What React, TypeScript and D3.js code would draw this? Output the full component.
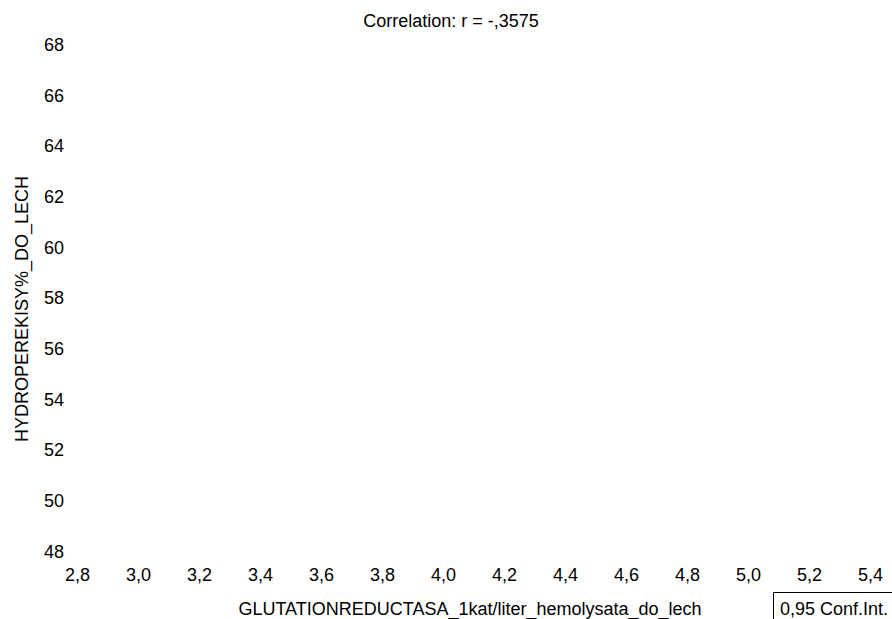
import React from "react";
import * as d3 from "d3";

const title = "Correlation: r = -,3575";
const xTitle = "GLUTATIONREDUCTASA_1kat/liter_hemolysata_do_lech";
const yTitle = "HYDROPEREKISY%_DO_LECH";
const legendLabel = "0,95 Conf.Int.";
const xTicks = [2.8, 3.0, 3.2, 3.4, 3.6, 3.8, 4.0, 4.2, 4.4, 4.6, 4.8, 5.0, 5.2, 5.4];
const yTicks = [48, 50, 52, 54, 56, 58, 60, 62, 64, 66, 68];
const xDomain = [2.8, 5.4];
const yDomain = [48, 68];

const W = 892;
const H = 619;
const fmt = (v: number, d: number) => v.toFixed(d).replace(".", ",");

export default function App() {
  const x = d3.scaleLinear().domain(xDomain).range([77.5, 870.5]);
  const y = d3.scaleLinear().domain(yDomain).range([551.5, 44.5]);
  const font = "'Liberation Sans', Arial, sans-serif";
  return (
    <svg
      width={W}
      height={H}
      style={{ position: "absolute", left: 0, top: 0, background: "#fff" }}
      fontFamily={font}
      fontSize={18}
    >
      <rect width={W} height={H} fill="#fff" />
      <text x={451} y={27} textAnchor="middle" fill="#000">{title}</text>
      {yTicks.map((t) => (
        <text key={"y" + t} x={44} y={y(t)} dy="0.35em" textAnchor="start" fill="#000">
          {String(t)}
        </text>
      ))}
      {xTicks.map((t) => (
        <text key={"x" + t} x={x(t)} y={581} textAnchor="middle" fill="#000">
          {fmt(t, 1)}
        </text>
      ))}
      <text x={470} y={615} textAnchor="middle" fill="#000">{xTitle}</text>
      <text
        transform={`translate(28, ${309}) rotate(-90)`}
        textAnchor="middle"
        fill="#000"
      >
        {yTitle}
      </text>
      <path d={`M773.5,${H} V592.5 H${W}`} fill="none" stroke="#000" strokeWidth={1} />
      <text x={780} y={615} textAnchor="start" fill="#000">{legendLabel}</text>
    </svg>
  );
}
